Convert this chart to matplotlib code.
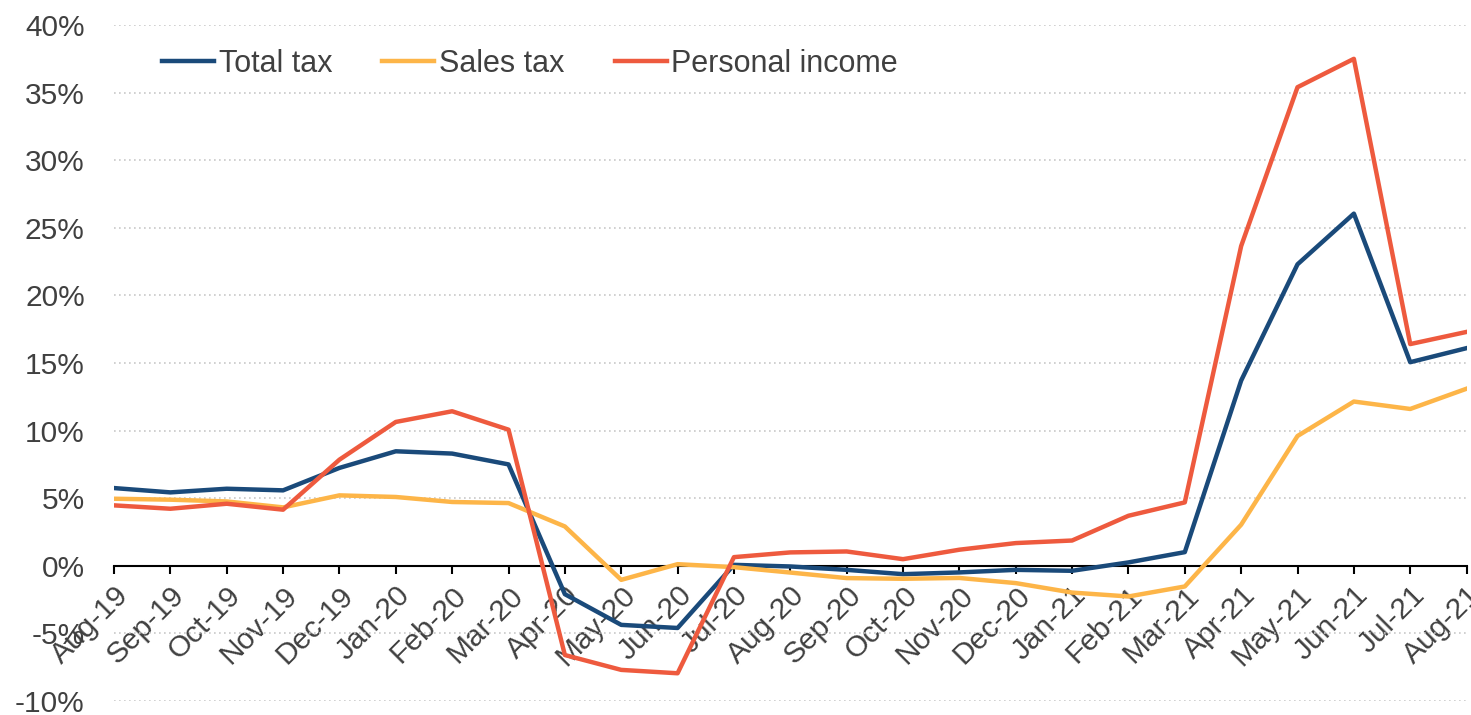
import matplotlib.pyplot as plt
from matplotlib.ticker import FuncFormatter

plt.rcParams['font.family'] = ['Liberation Sans', 'DejaVu Sans']

months = ['Aug-19', 'Sep-19', 'Oct-19', 'Nov-19', 'Dec-19', 'Jan-20', 'Feb-20', 'Mar-20',
          'Apr-20', 'May-20', 'Jun-20', 'Jul-20', 'Aug-20', 'Sep-20', 'Oct-20', 'Nov-20',
          'Dec-20', 'Jan-21', 'Feb-21', 'Mar-21', 'Apr-21', 'May-21', 'Jun-21', 'Jul-21', 'Aug-21']

total_tax = [5.75, 5.43, 5.70, 5.58, 7.24, 8.47, 8.30, 7.50,
             -2.10, -4.37, -4.60, 0.07, -0.05, -0.30, -0.62, -0.49,
             -0.30, -0.37, 0.25, 1.01, 13.7, 22.3, 26.05, 15.06, 16.1]
sales_tax = [4.96, 4.89, 4.76, 4.32, 5.21, 5.09, 4.72, 4.64,
             2.91, -1.04, 0.12, -0.10, -0.50, -0.91, -0.96, -0.90,
             -1.28, -1.98, -2.27, -1.53, 3.04, 9.6, 12.15, 11.6, 13.1]
personal_income = [4.47, 4.22, 4.59, 4.15, 7.85, 10.64, 11.43, 10.07,
                   -6.6, -7.7, -7.95, 0.64, 0.99, 1.06, 0.49, 1.19,
                   1.68, 1.87, 3.70, 4.69, 23.65, 35.4, 37.5, 16.4, 17.3]

text_color = '#404040'

fig = plt.figure(figsize=(14.71, 7.15), dpi=100)
ax = fig.add_axes([0.0775, 0.0196, 0.9195, 0.9454])

x = range(len(months))
ax.plot(x, total_tax, color='#1A4A7A', lw=3.2, label='Total tax', zorder=3)
ax.plot(x, sales_tax, color='#FDB548', lw=3.2, label='Sales tax', zorder=3)
ax.plot(x, personal_income, color='#EE5A3E', lw=3.2, label='Personal income', zorder=3)

ax.set_xlim(0, len(months) - 1)
ax.set_ylim(-10, 40)
ax.set_yticks(range(-10, 41, 5))
ax.yaxis.set_major_formatter(FuncFormatter(lambda v, p: '%d%%' % v))
ax.grid(axis='y', color='#C8C8C8', linestyle=(0, (1, 2)), lw=1.2)
ax.set_axisbelow(True)

for s in ['top', 'right', 'left']:
    ax.spines[s].set_visible(False)
ax.spines['bottom'].set_position(('data', 0))
ax.spines['bottom'].set_linewidth(1.5)
ax.spines['bottom'].set_zorder(2)

ax.set_xticks(list(x))
ax.set_xticklabels(months, rotation=45, ha='right', rotation_mode='anchor')
ax.tick_params(axis='x', direction='out', length=6, width=1.5, pad=5,
               labelsize=21.5, labelcolor=text_color)
ax.tick_params(axis='y', length=0, pad=21, labelsize=21.5, labelcolor=text_color)

leg = ax.legend(loc='upper left', bbox_to_anchor=(162 / 1471, 1 - 49 / 715),
                bbox_transform=fig.transFigure, ncol=3, frameon=False, fontsize=22,
                handlelength=1.7, handletextpad=0.15, columnspacing=1.65,
                borderpad=0, borderaxespad=0)
for t in leg.get_texts():
    t.set_color(text_color)

fig.savefig('out.png', dpi=100)
